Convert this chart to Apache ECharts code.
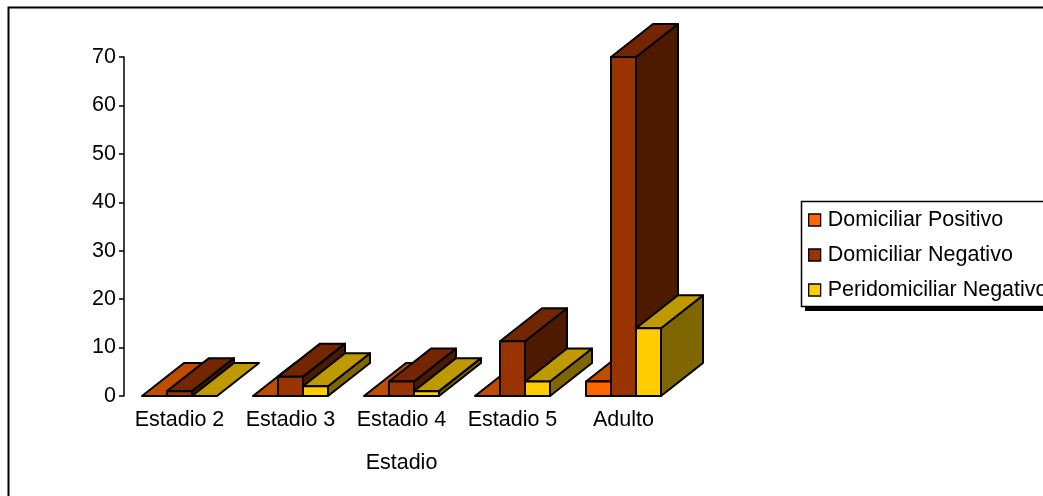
<!DOCTYPE html>
<html><head><meta charset="utf-8">
<style>html,body{margin:0;padding:0;background:#fff}#c{width:1043px;height:496px}</style>
<script src="https://cdn.jsdelivr.net/npm/echarts@6/dist/echarts.min.js"></script>
</head><body><div id="c"></div>
<script>
const categories = ['Estadio 2','Estadio 3','Estadio 4','Estadio 5','Adulto'];
const domiciliarPositivo = [0,0,0,0,3];
const domiciliarNegativo = [1,4,3,11.3,70];
const peridomiciliarNegativo = [0,2,1,3,14];
const axisTitle = 'Estadio';
const FONT = '"Liberation Sans", Arial, sans-serif';
const FS = 21.5;
const DX = 42, DY = -33;
function shade(front, top, side, index){
  return function(params, api){
    const cat = api.value(0), v = api.value(1);
    const f0 = api.coord([cat, 0]), f1 = api.coord([cat, v]);
    const band = api.size([1,0])[0];
    const w = band * 25 / 111;
    const x0 = f0[0] + (index - 1.5) * w, x1 = x0 + w;
    const yb = f0[1], yt = f1[1];
    const st = {stroke:'#000', lineWidth:2, lineJoin:'round'};
    const kids = [];
    if (v > 0) kids.push({type:'polygon', shape:{points:[[x1,yb],[x1+DX,yb+DY],[x1+DX,yt+DY],[x1,yt]]}, style:Object.assign({fill:side},st)});
    kids.push({type:'polygon', shape:{points:[[x0,yt],[x0+DX,yt+DY],[x1+DX,yt+DY],[x1,yt]]}, style:Object.assign({fill:top},st)});
    if (v > 0) kids.push({type:'rect', shape:{x:x0,y:yt,width:w,height:yb-yt}, style:Object.assign({fill:front},st)});
    return {type:'group', children:kids};
  };
}
function mk(name, values, front, top, side, index){
  return {name, type:'custom', data:values.map((v,i)=>[i,v]), encode:{x:0,y:1},
    itemStyle:{color:front}, clip:false, renderItem:shade(front,top,side,index)};
}
const chart = echarts.init(document.getElementById('c'), null, {renderer:'canvas'});
chart.setOption({
  animation:false, backgroundColor:'#fff',
  graphic:[
    {type:'rect', z:-10, silent:true, shape:{x:8.5,y:7.5,width:1100,height:600}, style:{fill:'#fff',stroke:'#000',lineWidth:2}},
    {type:'rect', z:-9, silent:true, shape:{x:805,y:206,width:300,height:105}, style:{fill:'#000'}},
    {type:'rect', z:-8, silent:true, shape:{x:801.5,y:201.5,width:300,height:105}, style:{fill:'#fff',stroke:'#000',lineWidth:1.5}}
  ],
  grid:{left:124, top:57, width:555, height:339},
  xAxis:{type:'category', data:categories, name:axisTitle, nameLocation:'middle', nameGap:56,
    nameTextStyle:{fontFamily:FONT,fontSize:FS,color:'#000'},
    axisLine:{show:false}, axisTick:{show:false},
    axisLabel:{fontFamily:FONT,fontSize:FS,color:'#000',margin:13,interval:0,hideOverlap:false}},
  yAxis:{type:'value', min:0, max:70, interval:10,
    axisLine:{show:true,lineStyle:{color:'#000',width:1.5}},
    axisTick:{show:true,length:5,lineStyle:{color:'#000',width:1.5}},
    splitLine:{show:false},
    axisLabel:{fontFamily:FONT,fontSize:FS,color:'#000',margin:8,padding:[0,0,3,0]}},
  legend:{orient:'vertical', left:801, top:201, padding:[8,0,8,7],
    itemWidth:12, itemHeight:12, itemGap:13,
    itemStyle:{borderColor:'#000',borderWidth:1.3}, icon:'rect',
    textStyle:{fontFamily:FONT,fontSize:FS,color:'#000',padding:[0,0,0,2]},
    data:['Domiciliar Positivo','Domiciliar Negativo','Peridomiciliar Negativo']},
  series:[
    mk('Domiciliar Positivo', domiciliarPositivo, '#ff6600', '#bf4d00', '#803300', 0),
    mk('Domiciliar Negativo', domiciliarNegativo, '#993300', '#732600', '#4d1a00', 1),
    mk('Peridomiciliar Negativo', peridomiciliarNegativo, '#ffcc00', '#bf9900', '#806600', 2)
  ]
});
</script></body></html>
